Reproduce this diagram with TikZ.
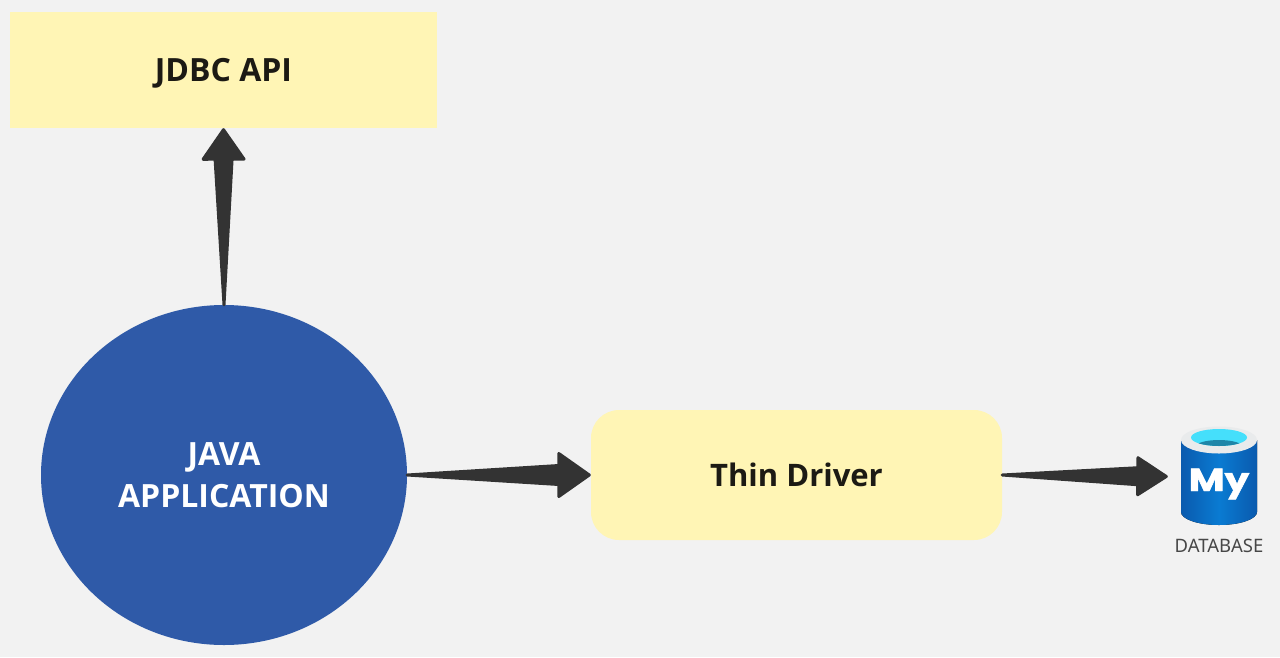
\documentclass[tikz,border=0pt]{standalone}
\usepackage{fontspec}
\setmainfont{Noto Sans}
\setsansfont{Open Sans}
\newfontfamily\logofont{Poppins}[BoldFeatures={FakeBold=1.5}]
\usepackage{xcolor}
\usepackage{tikz}
\usetikzlibrary{calc,shapes.geometric}
\definecolor{pagebg}{HTML}{F2F2F2}
\definecolor{boxfill}{HTML}{FFF5B5}
\definecolor{appblue}{HTML}{2F5AA8}
\definecolor{inkdark}{HTML}{1C1A14}
\definecolor{arrowgray}{HTML}{333333}
\definecolor{dblight}{HTML}{0A7BD2}
\definecolor{dbdark}{HTML}{0A5AAE}
\definecolor{dbrim}{HTML}{E9EBEC}
\definecolor{dbcyan}{HTML}{45DFFB}
\definecolor{dbteal}{HTML}{1E86A8}
\newcommand{\taperarrow}[5]{%
  \coordinate (tip) at ($(#2)!1.5pt!(#1)$);
  \coordinate (neck) at ($(#2)!#3!(#1)$);
  \draw[arrowgray,fill=arrowgray,line width=3pt,line join=round]
    (#1) -- ($(neck)!#4!-90:(#2)$) -- ($(neck)!#5!-90:(#2)$) -- (tip)
    -- ($(neck)!#5!90:(#2)$) -- ($(neck)!#4!90:(#2)$) -- cycle;
}

\begin{document}
\begin{tikzpicture}[x=1pt,y=-1pt]
        \tikzstyle{paper}=[fill=pagebg]
        \tikzstyle{box}=[fill=boxfill,text=inkdark,inner sep=0pt,font=\fontsize{32}{42}\sffamily\fontseries{b}\selectfont]
        \tikzstyle{app}=[ellipse,fill=appblue,text=white,inner sep=0pt,align=center,font=\fontsize{32}{42}\sffamily\fontseries{b}\selectfont]
        \path[paper,use as bounding box] (0,0) rectangle (1280,657);
        \node[box,minimum width=427pt,minimum height=116pt,text depth=-7pt] (jdbc) at (223.5,70) {JDBC API};
        \node[app,minimum width=366pt,minimum height=340pt] (java) at (224,475) {JAVA\\APPLICATION};
        \node[box,minimum width=411pt,minimum height=130pt,rounded corners=28pt,text depth=-2pt,font=\fontsize{31}{42}\sffamily\fontseries{b}\selectfont] (thin) at (796.5,475) {Thin Driver};
        \node[minimum width=76pt,minimum height=97pt,inner sep=0pt,xshift=-13pt] (db) at (1219,476.5) {};
        \node[text=black!72,inner sep=0pt,font=\fontsize{18.5}{22}\selectfont] (dblabel) at (1219,546) {DATABASE};
        \taperarrow{java.north}{jdbc.south}{31pt}{8.5pt}{20.5pt}
        \taperarrow{java.east}{thin.west}{32pt}{9.5pt}{21.5pt}
        \taperarrow{thin.east}{db.west}{30pt}{8.5pt}{18.5pt}
        \fill[left color=dbdark,right color=dbdark,middle color=dblight]
            (1181,440) -- (1181,512) arc[start angle=180,end angle=360,x radius=38,y radius=-13]
            -- (1257,440) -- cycle;
        \fill[dbrim] (1219,440) ellipse[x radius=38,y radius=13.5];
        \fill[dbcyan] (1219,437.5) ellipse[x radius=28,y radius=8.5];
        \begin{scope}
            \clip (1219,437.5) ellipse[x radius=28,y radius=8.5];
            \fill[dbteal] (1219,447) ellipse[x radius=24,y radius=7];
        \end{scope}
        \node[text=white,inner sep=0pt,font=\fontsize{32}{32}\logofont\bfseries] (mylogo) at (1219,484) {\scalebox{1.22}[1]{My}};
    \end{tikzpicture}
\end{document}
